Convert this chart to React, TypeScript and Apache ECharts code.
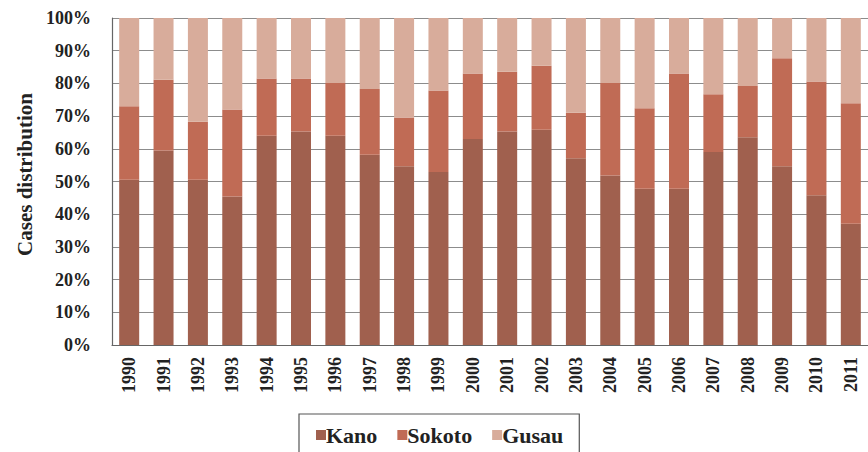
import React, { useEffect, useRef } from "react";
import * as echarts from "echarts";

const years = [
  "1990", "1991", "1992", "1993", "1994", "1995", "1996", "1997", "1998", "1999", "2000",
  "2001", "2002", "2003", "2004", "2005", "2006", "2007", "2008", "2009", "2010", "2011",
];
const kano = [50.5, 59.5, 50.5, 45.4, 64.0, 65.3, 64.0, 58.2, 54.7, 52.9, 63.0, 65.3, 65.8, 57.1, 51.8, 47.8, 47.8, 59.0, 63.5, 54.7, 45.8, 37.1];
const sokoto = [22.5, 21.6, 17.8, 26.6, 17.5, 16.2, 16.1, 20.1, 14.9, 24.9, 20.0, 18.3, 19.6, 13.9, 28.3, 24.6, 35.2, 17.7, 15.7, 33.0, 34.8, 36.8];
const gusau = [27.0, 18.9, 31.7, 28.0, 18.5, 18.5, 19.9, 21.7, 30.4, 22.2, 17.0, 16.4, 14.6, 29.0, 19.9, 27.6, 17.0, 23.3, 20.8, 12.3, 19.4, 26.1];
const yTicks = { min: 0, max: 100, interval: 10 };

const FONT = "Liberation Serif";

export default function App() {
  const ref = useRef<HTMLDivElement>(null);
  useEffect(() => {
    if (!ref.current) return;
    const chart = echarts.init(ref.current, null, { renderer: "svg" });
    const textStyle = { fontFamily: FONT, fontWeight: "bold" as const, color: "#222", fontSize: 18 };
    chart.setOption({
      animation: false,
      grid: { left: 112, top: 18, right: -10, bottom: 107, containLabel: false },
      legend: {
        left: 299,
        top: 414,
        padding: [10, 16, 20, 17],
        borderColor: "#555",
        borderWidth: 1.2,
        itemWidth: 10,
        itemHeight: 10,
        itemGap: 20,
        icon: "rect",
        textStyle: { ...textStyle, fontSize: 22, padding: [0, 0, 0, -5] },
        data: ["Kano", "Sokoto", "Gusau"],
      },
      xAxis: {
        type: "category",
        data: years,
        axisTick: { show: false },
        axisLine: { lineStyle: { color: "#666", width: 1.2 } },
        axisLabel: { ...textStyle, fontSize: 18, rotate: 90, margin: 12 },
      },
      yAxis: {
        type: "value",
        min: yTicks.min,
        max: yTicks.max,
        interval: yTicks.interval,
        name: "Cases distribution",
        nameLocation: "middle",
        nameGap: 77,
        nameTextStyle: { ...textStyle, fontSize: 21, padding: [0, 0, 0, 14] },
        axisLine: { show: true, lineStyle: { color: "#666", width: 1.2 } },
        axisTick: { show: false },
        splitLine: { lineStyle: { color: "#8c8c8c", width: 1 } },
        axisLabel: { ...textStyle, formatter: "{value}%", margin: 21 },
      },
      series: [
        { name: "Kano", type: "bar", stack: "all", data: kano, barWidth: 20, itemStyle: { color: "#A0604E" } },
        { name: "Sokoto", type: "bar", stack: "all", data: sokoto, barWidth: 20, itemStyle: { color: "#C06B55" } },
        { name: "Gusau", type: "bar", stack: "all", data: gusau, barWidth: 20, itemStyle: { color: "#D8AC9B" } },
      ],
    });
    return () => chart.dispose();
  }, []);
  return (
    <div
      ref={ref}
      style={{ position: "fixed", left: 0, top: 0, width: 868, height: 452, background: "#fff" }}
    />
  );
}
